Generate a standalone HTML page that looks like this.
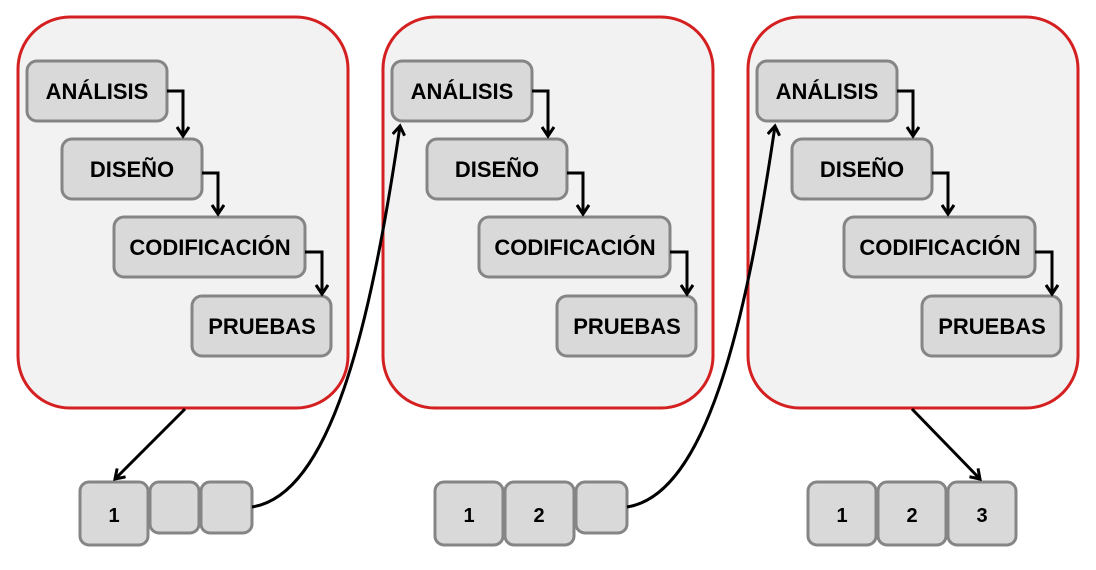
<!DOCTYPE html>
<html><head><meta charset="utf-8"><style>
html,body{margin:0;padding:0;background:#fff;}
svg{display:block;}
text{font-family:"Liberation Sans",Arial,sans-serif;font-weight:bold;fill:#000;}
</style></head><body>
<svg width="1096" height="570" viewBox="0 0 1096 570" xmlns="http://www.w3.org/2000/svg">
<defs>
<marker id="ah" markerWidth="14" markerHeight="14" refX="10" refY="7" orient="auto" markerUnits="userSpaceOnUse">
<path d="M1,1 L10,7 L1,13" fill="none" stroke="#000" stroke-width="3"/>
</marker>
<g id="panel">
<rect x="18" y="17" width="330" height="391" rx="52" fill="#f2f2f2" stroke="#d42020" stroke-width="3"/>
<g fill="#d9d9d9" stroke="#858585" stroke-width="3">
<rect x="27" y="61" width="140" height="60" rx="10"/>
<rect x="62" y="139" width="140" height="60" rx="10"/>
<rect x="114" y="217" width="191" height="60" rx="10"/>
<rect x="192" y="296" width="139" height="60" rx="10"/>
</g>
<g fill="none" stroke="#000" stroke-width="3">
<polyline points="167,91 183,91 183,136" marker-end="url(#ah)"/>
<polyline points="202,173 218,173 218,214" marker-end="url(#ah)"/>
<polyline points="305,252 322,252 322,294" marker-end="url(#ah)"/>
</g>
<g font-size="22" text-anchor="middle">
<text x="97" y="99">ANÁLISIS</text>
<text x="132" y="177">DISEÑO</text>
<text x="210" y="255">CODIFICACIÓN</text>
<text x="262" y="334">PRUEBAS</text>
</g>
</g>
</defs>
<use href="#panel"/>
<use href="#panel" x="365"/>
<use href="#panel" x="730"/>

<g fill="#d9d9d9" stroke="#858585" stroke-width="3">
<rect x="150" y="482" width="49" height="51" rx="9"/>
<rect x="201" y="482" width="51" height="51" rx="9"/>
<rect x="80" y="482" width="68" height="63" rx="9"/>

<rect x="576" y="482" width="51" height="51" rx="9"/>
<rect x="435" y="482" width="68" height="63" rx="9"/>
<rect x="505" y="482" width="69" height="63" rx="9"/>

<rect x="808" y="482" width="68" height="63" rx="9"/>
<rect x="878" y="482" width="68" height="63" rx="9"/>
<rect x="948" y="482" width="68" height="63" rx="9"/>
</g>
<g font-size="20" text-anchor="middle">
<text x="114" y="522">1</text>
<text x="469" y="522">1</text>
<text x="539" y="522">2</text>
<text x="842" y="522">1</text>
<text x="912" y="522">2</text>
<text x="982" y="522">3</text>
</g>
<g fill="none" stroke="#000" stroke-width="3">
<line x1="185" y1="409" x2="115" y2="479" marker-end="url(#ah)"/>
<line x1="912" y1="409" x2="980" y2="479" marker-end="url(#ah)"/>
<path d="M252,507 C330,495 370,330 400,126" marker-end="url(#ah)"/>
<path d="M627,507 C705,495 745,330 775,126" marker-end="url(#ah)"/>
</g>
</svg>
</body></html>
